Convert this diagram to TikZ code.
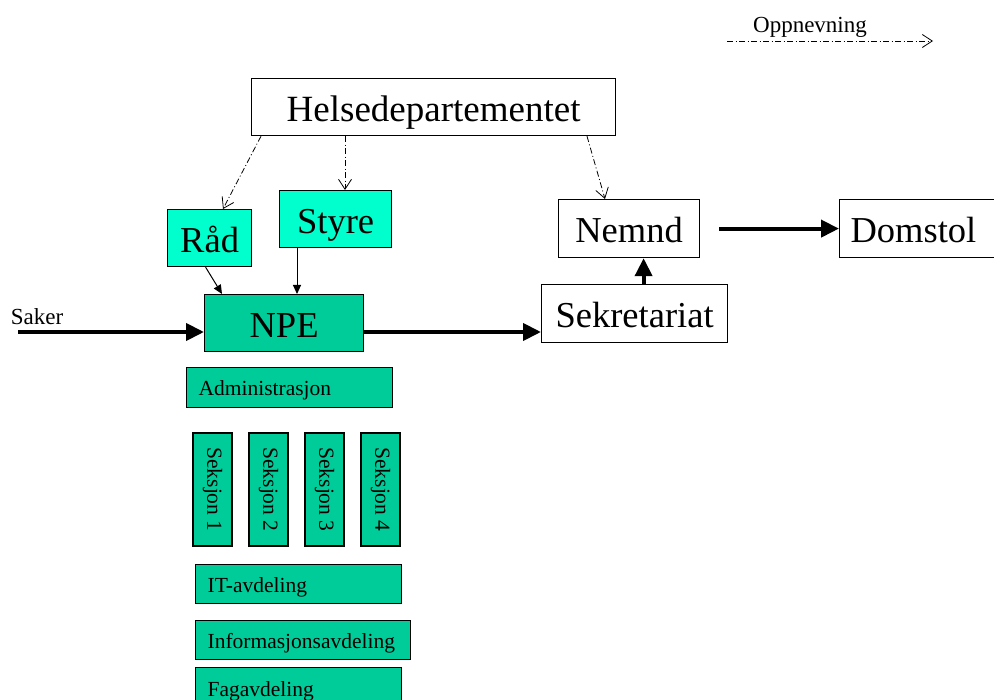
\documentclass[tikz,border=0pt]{standalone}
\usepackage{fontspec}
\setmainfont{Liberation Serif}
\usepackage{xcolor}
\usetikzlibrary{shapes, positioning, calc}
\usetikzlibrary{arrows.meta}

\definecolor{lightteal}{HTML}{00FFCC}
\definecolor{darkteal}{HTML}{00CC99}
\newcommand{\bigtxt}{\fontsize{36.5}{40}\selectfont}
\newcommand{\midtxt}{\fontsize{23}{26}\selectfont}
\newcommand{\smalltxt}{\fontsize{21.5}{24}\selectfont}

\tikzset{
    box/.style={draw, line width=1.2pt, inner sep=0pt, anchor=north west, font=\bigtxt,
        text height=29pt, text depth=1pt},
    unitbox/.style={box, fill=darkteal, font=\smalltxt, align=left, inner xsep=12pt,
        text height=17pt, text depth=1pt},
    seksbox/.style={draw, line width=1.2pt, fill=darkteal, inner sep=0pt, rotate=-90,
        minimum width=113pt, minimum height=39pt, font=\smalltxt},
    thickarr/.style={line width=4pt, -{Triangle[length=18pt,width=17pt]}},
    thinarr/.style={line width=1pt, -{Triangle[length=9pt,width=8pt]}},
    appoint/.style={line width=0.8pt, dash pattern=on 6pt off 2.5pt on 1pt off 2.5pt,
        -{Straight Barb[length=10pt,width=13pt]}}
}

\begin{document}
\begin{tikzpicture}[x=1pt, y=-1pt]
        \useasboundingbox (0,0) rectangle (994,700);

        \node[box, minimum width=364pt, minimum height=57pt, font=\fontsize{37}{40}\selectfont] (helse) at (251,78) {Helsedepartementet};
        \node[box, fill=lightteal, minimum width=84pt, minimum height=57pt] (rad) at (167,209) {Råd};
        \node[box, fill=lightteal, minimum width=112pt, minimum height=57pt] (styre) at (279,190) {Styre};
        \node[box, fill=darkteal, minimum width=159pt, minimum height=57pt] (npe) at (204,294) {NPE};
        \node[box, minimum width=141pt, minimum height=58pt] (nemnd) at (558,199) {Nemnd};
        \node[box, minimum width=186pt, minimum height=58pt] (sekr) at (541,284) {Sekretariat};
        \node[box, minimum width=164pt, minimum height=58pt, text width=164pt, inner xsep=0pt, align=left] (domstol) at (839,199) {\hspace{11pt}Domstol};

        \node[unitbox, minimum height=40pt, text width=182pt] (admin) at (186,367) {Administrasjon};
        \node[seksbox] (seks1) at (212.5,489.5) {Seksjon 1};
        \node[seksbox] (seks2) at (268.5,489.5) {Seksjon 2};
        \node[seksbox] (seks3) at (324.5,489.5) {Seksjon 3};
        \node[seksbox] (seks4) at (380.5,489.5) {Seksjon 4};
        \node[unitbox, minimum height=39pt, text width=182pt] (it) at (195,564) {IT-avdeling};
        \node[unitbox, minimum height=39pt, text width=191pt] (info) at (195,620) {Informasjonsavdeling};
        \node[unitbox, minimum height=42pt, text width=182pt] (fag) at (195,667) {Fagavdeling};

        % innkommende saker
        \coordinate (saker) at (18,332);
        \node[font=\midtxt] (sakertxt) at (37,317) {Saker};
        \draw[thickarr] (saker) -- (saker -| npe.west);
        \draw[thickarr] (npe.east |- saker) -- (sekr.west |- saker);
        \draw[thickarr] ([xshift=9pt]sekr.north) -- ([xshift=9pt]sekr.north |- nemnd.south);
        \draw[thickarr] ([xshift=19pt]nemnd.east) -- (domstol.west);

        \draw[thinarr] ([xshift=-4pt]rad.south) -- ([xshift=18pt]npe.north west);
        \draw[thinarr] ([xshift=18pt]styre.south west) -- ([xshift=18pt]styre.south west |- npe.north);

        % oppnevning
        \draw[appoint] ([xshift=10pt]helse.south west) -- ([xshift=56pt]rad.north west);
        \draw[appoint] ([xshift=94pt]helse.south west) -- ([xshift=66pt]styre.north west);
        \draw[appoint] ([xshift=336pt]helse.south west) -- ([xshift=47pt]nemnd.north west);

        \coordinate (lega) at (727,41);
        \coordinate (legb) at (933,41);
        \node[font=\midtxt] (oppn) at (810,27) {Oppnevning};
        \draw[appoint] (lega) -- (legb);
    \end{tikzpicture}
\end{document}
